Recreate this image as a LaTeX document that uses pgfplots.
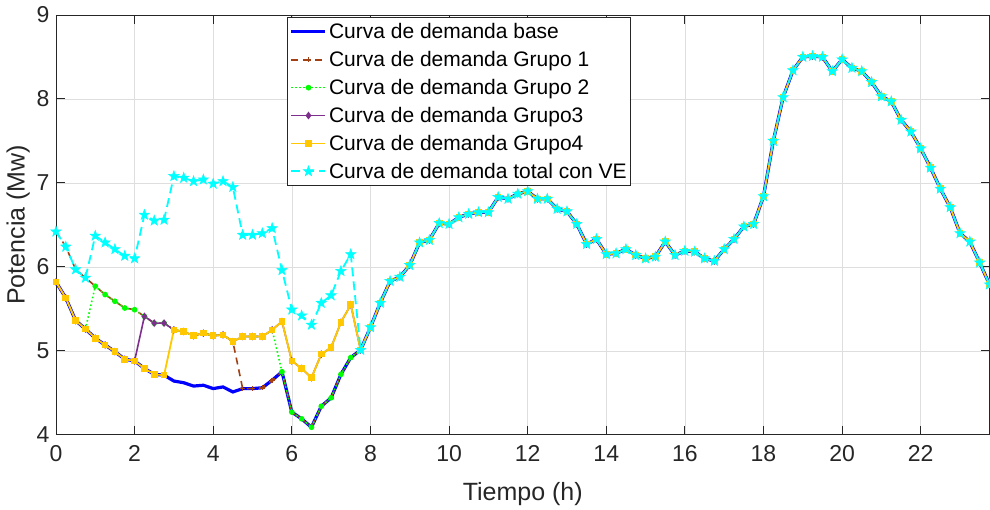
\documentclass[border=0pt]{standalone}
\usepackage{fontspec}
\setmainfont{Liberation Sans}
\usepackage{pgfplots}
\usepackage{pgfplotstable}
\pgfplotsset{compat=1.18}
\definecolor{axgray}{gray}{0.15}
\definecolor{cbrown}{RGB}{162,64,20}
\definecolor{cgreen}{RGB}{0,255,0}
\definecolor{cpurple}{RGB}{126,47,142}
\definecolor{cyellow}{RGB}{255,200,0}
\definecolor{ccyan}{RGB}{0,255,255}
\pgfdeclareplotmark{pentagram}{%
  \pgfpathmoveto{\pgfqpointpolar{90}{\pgfplotmarksize}}%
  \pgfpathlineto{\pgfqpointpolar{126}{0.40\pgfplotmarksize}}%
  \pgfpathlineto{\pgfqpointpolar{162}{\pgfplotmarksize}}%
  \pgfpathlineto{\pgfqpointpolar{198}{0.40\pgfplotmarksize}}%
  \pgfpathlineto{\pgfqpointpolar{234}{\pgfplotmarksize}}%
  \pgfpathlineto{\pgfqpointpolar{270}{0.40\pgfplotmarksize}}%
  \pgfpathlineto{\pgfqpointpolar{306}{\pgfplotmarksize}}%
  \pgfpathlineto{\pgfqpointpolar{342}{0.40\pgfplotmarksize}}%
  \pgfpathlineto{\pgfqpointpolar{18}{\pgfplotmarksize}}%
  \pgfpathlineto{\pgfqpointpolar{54}{0.40\pgfplotmarksize}}%
  \pgfpathclose
  \pgfusepathqfillstroke}

\pgfplotstableread{
t B G1 G2 G3 G4 T
0 5.82 6.42 5.82 5.82 5.82 6.42
0.25 5.63 6.24 5.63 5.63 5.63 6.24
0.5 5.36 5.97 5.36 5.36 5.36 5.97
0.75 5.26 5.87 5.26 5.26 5.26 5.87
1 5.15 5.77 5.77 5.15 5.15 6.37
1.25 5.07 5.67 5.67 5.07 5.07 6.29
1.5 4.99 5.59 5.59 4.99 4.99 6.21
1.75 4.90 5.51 5.51 4.90 4.90 6.13
2 4.88 5.49 5.49 4.88 4.88 6.10
2.25 4.79 5.41 5.41 5.41 4.79 6.62
2.5 4.72 5.33 5.33 5.33 4.72 6.55
2.75 4.71 5.33 5.33 5.33 4.71 6.56
3 4.64 5.25 5.25 5.25 5.25 7.08
3.25 4.62 5.23 5.23 5.23 5.23 7.06
3.5 4.58 5.18 5.18 5.18 5.18 7.02
3.75 4.59 5.21 5.21 5.21 5.21 7.04
4 4.55 5.18 5.18 5.18 5.18 6.99
4.25 4.57 5.19 5.19 5.19 5.19 7.02
4.5 4.51 5.11 5.11 5.11 5.11 6.95
4.75 4.55 4.55 5.17 5.17 5.17 6.38
5 4.55 4.55 5.17 5.17 5.17 6.38
5.25 4.56 4.56 5.17 5.17 5.17 6.40
5.5 4.65 4.65 5.25 5.25 5.25 6.46
5.75 4.75 4.75 4.75 5.35 5.35 5.96
6 4.27 4.27 4.27 4.88 4.88 5.49
6.25 4.19 4.19 4.19 4.79 4.79 5.42
6.5 4.09 4.09 4.09 4.68 4.68 5.31
6.75 4.34 4.34 4.34 4.96 4.96 5.57
7 4.44 4.44 4.44 5.04 5.04 5.66
7.25 4.72 4.72 4.72 5.34 5.34 5.95
7.5 4.92 4.92 4.92 5.55 5.55 6.15
7.75 5.01 5.01 5.01 5.01 5.01 5.01
8 5.28 5.28 5.28 5.28 5.28 5.28
8.25 5.57 5.57 5.57 5.57 5.57 5.57
8.5 5.83 5.83 5.83 5.83 5.83 5.83
8.75 5.88 5.88 5.88 5.88 5.88 5.88
9 6.02 6.02 6.02 6.02 6.02 6.02
9.25 6.29 6.29 6.29 6.29 6.29 6.29
9.5 6.32 6.32 6.32 6.32 6.32 6.32
9.75 6.52 6.52 6.52 6.52 6.52 6.52
10 6.51 6.51 6.51 6.51 6.51 6.51
10.25 6.59 6.59 6.59 6.59 6.59 6.59
10.5 6.63 6.63 6.63 6.63 6.63 6.63
10.75 6.65 6.65 6.65 6.65 6.65 6.65
11 6.65 6.65 6.65 6.65 6.65 6.65
11.25 6.83 6.83 6.83 6.83 6.83 6.83
11.5 6.81 6.81 6.81 6.81 6.81 6.81
11.75 6.87 6.87 6.87 6.87 6.87 6.87
12 6.90 6.90 6.90 6.90 6.90 6.90
12.25 6.81 6.81 6.81 6.81 6.81 6.81
12.5 6.81 6.81 6.81 6.81 6.81 6.81
12.75 6.69 6.69 6.69 6.69 6.69 6.69
13 6.66 6.66 6.66 6.66 6.66 6.66
13.25 6.51 6.51 6.51 6.51 6.51 6.51
13.5 6.27 6.27 6.27 6.27 6.27 6.27
13.75 6.33 6.33 6.33 6.33 6.33 6.33
14 6.15 6.15 6.15 6.15 6.15 6.15
14.25 6.16 6.16 6.16 6.16 6.16 6.16
14.5 6.21 6.21 6.21 6.21 6.21 6.21
14.75 6.14 6.14 6.14 6.14 6.14 6.14
15 6.10 6.10 6.10 6.10 6.10 6.10
15.25 6.12 6.12 6.12 6.12 6.12 6.12
15.5 6.30 6.30 6.30 6.30 6.30 6.30
15.75 6.14 6.14 6.14 6.14 6.14 6.14
16 6.19 6.19 6.19 6.19 6.19 6.19
16.25 6.18 6.18 6.18 6.18 6.18 6.18
16.5 6.10 6.10 6.10 6.10 6.10 6.10
16.75 6.07 6.07 6.07 6.07 6.07 6.07
17 6.21 6.21 6.21 6.21 6.21 6.21
17.25 6.33 6.33 6.33 6.33 6.33 6.33
17.5 6.48 6.48 6.48 6.48 6.48 6.48
17.75 6.51 6.51 6.51 6.51 6.51 6.51
18 6.84 6.84 6.84 6.84 6.84 6.84
18.25 7.50 7.50 7.50 7.50 7.50 7.50
18.5 8.02 8.02 8.02 8.02 8.02 8.02
18.75 8.34 8.34 8.34 8.34 8.34 8.34
19 8.50 8.50 8.50 8.50 8.50 8.50
19.25 8.51 8.51 8.51 8.51 8.51 8.51
19.5 8.50 8.50 8.50 8.50 8.50 8.50
19.75 8.33 8.33 8.33 8.33 8.33 8.33
20 8.47 8.47 8.47 8.47 8.47 8.47
20.25 8.37 8.37 8.37 8.37 8.37 8.37
20.5 8.33 8.33 8.33 8.33 8.33 8.33
20.75 8.20 8.20 8.20 8.20 8.20 8.20
21 8.03 8.03 8.03 8.03 8.03 8.03
21.25 7.97 7.97 7.97 7.97 7.97 7.97
21.5 7.75 7.75 7.75 7.75 7.75 7.75
21.75 7.61 7.61 7.61 7.61 7.61 7.61
22 7.41 7.41 7.41 7.41 7.41 7.41
22.25 7.18 7.18 7.18 7.18 7.18 7.18
22.5 6.93 6.93 6.93 6.93 6.93 6.93
22.75 6.71 6.71 6.71 6.71 6.71 6.71
23 6.40 6.40 6.40 6.40 6.40 6.40
23.25 6.30 6.30 6.30 6.30 6.30 6.30
23.5 6.05 6.05 6.05 6.05 6.05 6.05
23.75 5.79 5.79 5.79 5.79 5.79 5.79
}\datatable

\begin{document}
\begin{tikzpicture}
\useasboundingbox (-56pt,-75pt) rectangle (934.5pt,435pt);
\begin{axis}[
  scale only axis, width=934pt, height=420pt,
  at={(0,0)}, anchor=south west,
  xmin=0, xmax=23.75, ymin=4, ymax=9,
  xtick={0,2,...,22}, ytick={4,5,...,9},
  grid=major, grid style={black!13, line width=0.6pt},
  axis line style={axgray, line width=0.9pt},
  tick style={axgray, line width=0.9pt},
  major tick length=9pt,
  tick label style={font=\fontsize{23}{26}\selectfont, text=axgray},
  xticklabel style={yshift=-7pt},
  yticklabel style={xshift=-3pt},
  /pgf/number format/assume math mode=true,
  label style={font=\fontsize{25}{28}\selectfont, text=axgray},
  xlabel={Tiempo (h)}, ylabel={Potencia (Mw)},
  xlabel style={yshift=-14pt},
  legend cell align=left,
  legend style={at={(0.248,0.995)}, anchor=north west, draw=axgray, line width=0.8pt,
    fill=white, font=\fontsize{21}{24}\selectfont, text=black, row sep=7.2pt,
    inner ysep=4pt, inner xsep=2pt},
  legend image code/.code={\draw[mark repeat=2,mark phase=2,#1] plot coordinates {(0pt,0pt) (17pt,0pt) (34pt,0pt)};},
]
\addplot[blue, line width=3.2pt, no markers] table[x=t,y=B] {\datatable};
\addlegendentry{Curva de demanda base}
\addplot[cbrown, line width=1.6pt, dash pattern=on 7pt off 5pt, mark=+, mark size=2.5pt, mark options={solid}] table[x=t,y=G1] {\datatable};
\addlegendentry{Curva de demanda Grupo 1}
\addplot[cgreen, line width=1.6pt, dash pattern=on 1.5pt off 2.5pt, mark=*, mark size=2pt, mark options={solid}] table[x=t,y=G2] {\datatable};
\addlegendentry{Curva de demanda Grupo 2}
\addplot[cpurple, line width=1.6pt, mark=diamond*, mark size=2.6pt, mark options={solid}] table[x=t,y=G3] {\datatable};
\addlegendentry{Curva de demanda Grupo3}
\addplot[cyellow, line width=1.8pt, mark=square*, mark size=2.4pt, mark options={solid}] table[x=t,y=G4] {\datatable};
\addlegendentry{Curva de demanda Grupo4}
\addplot[ccyan, line width=1.8pt, dash pattern=on 9pt off 5pt, mark=pentagram, mark size=5.5pt, mark options={solid, fill=ccyan, line width=0.5pt}] table[x=t,y=T] {\datatable};
\addlegendentry{Curva de demanda total con VE}
\end{axis}
\end{tikzpicture}
\end{document}
